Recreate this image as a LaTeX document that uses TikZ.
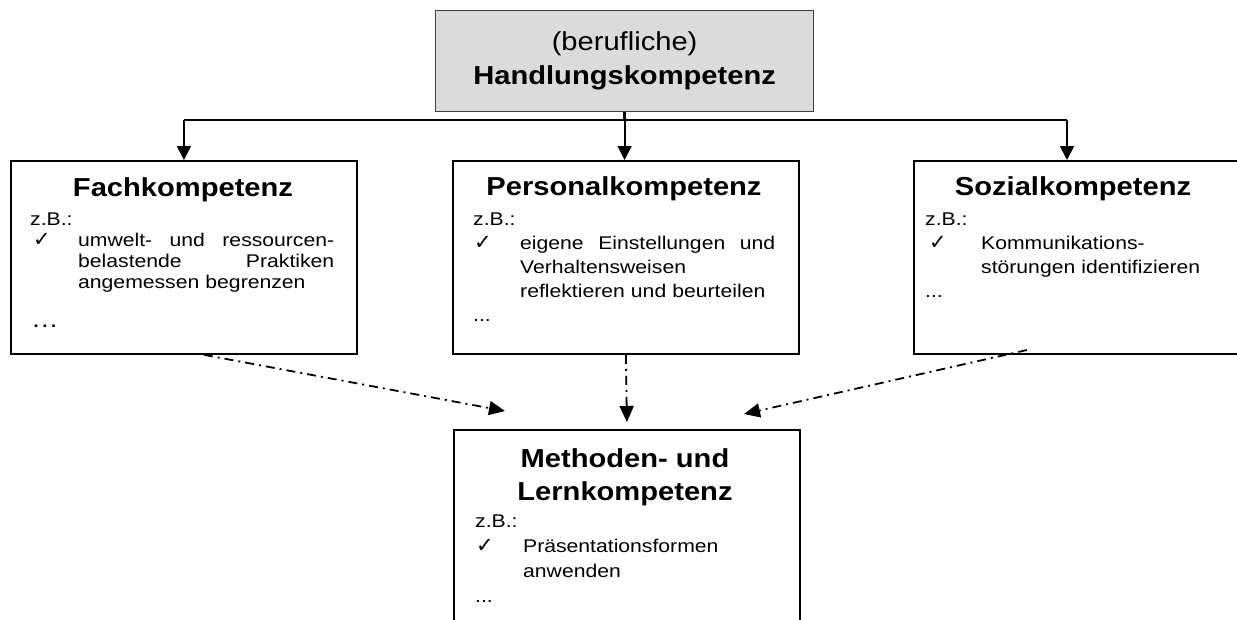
\documentclass[tikz,border=0pt]{standalone}
\usepackage{fontspec}
\setmainfont{Liberation Sans}
\newfontfamily\ttlfont[FakeStretch=1.12]{Liberation Sans}
\newfontfamily\bodyfnt[FakeStretch=1.15]{Liberation Sans}
\newfontfamily\ckfont{DejaVu Sans}
\usetikzlibrary{arrows.meta}
\newcommand{\ckm}{{\ckfont\fontsize{21}{21}\selectfont ✓}}
\begin{document}
\begin{tikzpicture}[x=1pt,y=-1pt,
  kbox/.style={draw=black, line width=1.8pt, minimum width=346pt, minimum height=193pt, anchor=north west, inner sep=0pt},
  ttl/.style={font=\ttlfont\bfseries\fontsize{26}{30}\selectfont, anchor=base, inner sep=0pt},
  body/.style={anchor=base west, inner sep=0pt, align=left, text width=320pt},
  conn/.style={line width=1.8pt, draw=black},
  tip/.style={-{Triangle[length=14pt,width=14pt]}},
  dd/.style={line width=1.8pt, dash pattern=on 9pt off 5pt on 2pt off 5pt, -{Triangle[length=16pt,width=14pt]}}
]
\clip (0,0) rectangle (1237,619);
% boxes
\node[draw=black!75, fill=black!14, line width=1.2pt, anchor=north west, minimum width=378pt, minimum height=101pt, inner sep=0pt, align=center, font=\ttlfont\fontsize{26}{34}\selectfont] (top) at (435,10) {(berufliche)\\\textbf{Handlungskompetenz}};
\node[kbox] (lb) at (10,160) {};
\node[kbox] (mb) at (452,160) {};
\node[kbox] (rb) at (913,160) {};
\node[kbox, minimum height=230pt] (bb) at (453,429) {};
% titles
\node[ttl] (lt) at (183,196) {Fachkompetenz};
\node[ttl] (mt) at (624,195) {Personalkompetenz};
\node[ttl] (rt) at (1073,195) {Sozialkompetenz};
\node[ttl] (bt1) at (625,467) {Methoden- und};
\node[ttl] (bt2) at (625,500) {Lernkompetenz};
% bodies
\node[body, font=\bodyfnt\fontsize{18.4}{21.3}\selectfont] (lbody) at (30,225) {z.B.:\\
\makebox[48pt][l]{\hspace*{3pt}\ckm}\hbox to 256pt{umwelt-\hfill und\hfill ressourcen-}\\
\hspace*{48pt}\hbox to 256pt{belastende\hfill Praktiken}\\
\hspace*{48pt}angemessen begrenzen};
\node[anchor=base west, inner sep=0pt, font=\bodyfnt\fontsize{24}{24}\selectfont] (ldots) at (31,327) {…};
\node[body, font=\bodyfnt\fontsize{18.4}{24.2}\selectfont] (mbody) at (473,225) {z.B.:\\
\makebox[47pt][l]{\hspace*{1pt}\ckm}\hbox to 255pt{eigene\hfill Einstellungen\hfill und}\\
\hspace*{47pt}Verhaltensweisen\\
\hspace*{47pt}reflektieren und beurteilen\\
...};
\node[body, font=\bodyfnt\fontsize{18.4}{24}\selectfont] (rbody) at (925,225) {z.B.:\\
\makebox[56pt][l]{\hspace*{4pt}\ckm}Kommunikations-\\
\hspace*{56pt}störungen identifizieren\\
...};
\node[body, font=\bodyfnt\fontsize{18.4}{25}\selectfont] (bbody) at (475,527) {z.B.:\\
\makebox[48pt][l]{\hspace*{1pt}\ckm}Präsentationsformen\\
\hspace*{48pt}anwenden\\
...};
% connectors
\coordinate (jl) at (lb.north |- 0,120);
\coordinate (jr) at (1067,120);
\draw[conn] (jl) -- (jr);
\draw[line width=3pt] (top.south) -- (top.south |- jl);
\draw[conn, tip] (jl) -- (lb.north);
\draw[conn, tip] (top.south) -- (top.south |- mb.north);
\draw[conn, tip] (jr) -- (jr |- rb.north);
% dash-dot arrows
\coordinate (ltip) at (505,411);
\coordinate (rtip) at (744,414);
\coordinate (rs) at (1027,350);
\draw[dd] ([xshift=20pt]lb.south) -- (ltip);
\draw[dd] (mb.south) -- ([yshift=7pt]bb.north);
\draw[dd] (rs) -- (rtip);
\end{tikzpicture}
\end{document}
